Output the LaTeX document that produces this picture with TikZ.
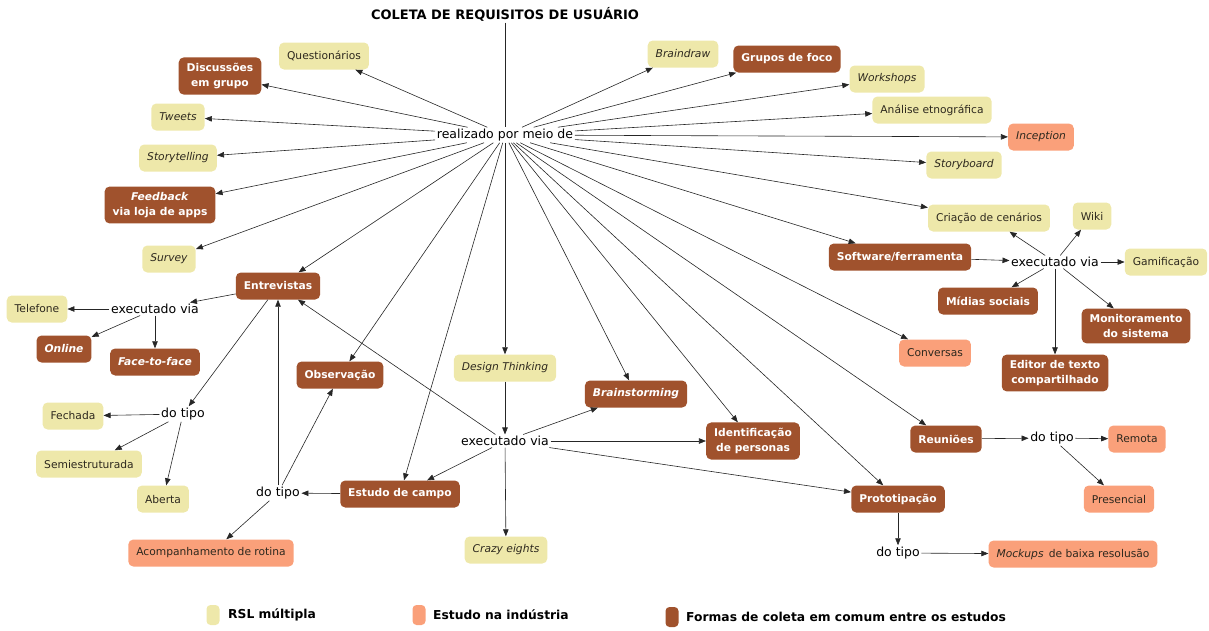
\documentclass[tikz,border=0pt]{standalone}
\usepackage{fontspec}
\setmainfont{DejaVu Sans}
\usetikzlibrary{arrows.meta}
\definecolor{rslcor}{RGB}{238,232,170}
\definecolor{indcor}{RGB}{250,160,122}
\definecolor{comcor}{RGB}{160,82,45}
\definecolor{textocor}{RGB}{45,40,30}

\begin{document}
\begin{tikzpicture}[x=1pt,y=-1pt,
  caixa/.style={rounded corners=5pt,inner xsep=8pt,inner ysep=6pt,minimum height=27pt,align=center,font=\fontsize{10.7}{14.5}\selectfont},
  rsl/.style={caixa,fill=rslcor,text=textocor},
  ind/.style={caixa,fill=indcor,text=textocor},
  comum/.style={caixa,fill=comcor,text=white,font=\fontsize{10.7}{14.5}\selectfont\bfseries},
  rotulo/.style={inner sep=1.5pt,font=\fontsize{12.5}{14}\selectfont},
  seta/.style={-{Triangle[length=7pt,width=5.5pt]},line width=0.6pt,draw=black!85},
  legenda/.style={rounded corners=4pt,minimum width=13pt,minimum height=20pt,inner sep=0pt},
  legtexto/.style={anchor=west,inner sep=0pt,font=\fontsize{12.3}{14}\selectfont\bfseries}]
\useasboundingbox (0,0) rectangle (1209,630);

\node[rotulo,font=\fontsize{13}{15}\selectfont\bfseries] (titulo) at (505,14) {COLETA DE REQUISITOS DE USUÁRIO};
\node[rotulo] (rpm) at (505,135) {realizado por meio de};

\node[rsl] (quest) at (324,56) {Questionários};
\node[comum] (discuss) at (220,76) {Discussões\\em grupo};
\node[rsl] (tweets) at (178,117) {\textit{Tweets}};
\node[rsl] (story) at (178,158) {\textit{Storytelling}};
\node[comum] (feedback) at (160,205) {\textit{Feedback}\\via loja de apps};
\node[rsl] (survey) at (169,259) {\textit{Survey}};
\node[comum] (entrev) at (278,286) {Entrevistas};

\node[rotulo] (execE) at (155,309) {executado via};
\node[rsl] (telef) at (37,309) {Telefone};
\node[comum] (online) at (64,349) {\textit{Online}};
\node[comum] (face) at (155,362) {\textit{Face-to-face}};

\node[rotulo] (tipoE) at (183,414) {do tipo};
\node[rsl] (fechada) at (73,416) {Fechada};
\node[rsl] (semi) at (89,464) {Semiestruturada};
\node[rsl] (aberta) at (163,499) {Aberta};

\node[comum] (observ) at (340,375) {Observação};
\node[rotulo] (tipoC) at (278,493) {do tipo};
\node[comum] (campo) at (400,494) {Estudo de campo};
\node[ind] (acomp) at (211,553) {Acompanhamento de rotina};

\node[rsl] (design) at (505,368) {\textit{Design Thinking}};
\node[rotulo] (execC) at (505,441) {executado via};
\node[rsl] (crazy) at (506,550) {\textit{Crazy eights}};
\node[comum] (brainst) at (636,394) {\textit{Brainstorming}};
\node[comum] (personas) at (753,441) {Identificação\\de personas};
\node[comum] (proto) at (898,499) {Prototipação};
\node[rotulo] (tipoP) at (898,553) {do tipo};
\node[ind] (mockups) at (1073,554) {\textit{Mockups}\, de baixa resolusão};

\node[comum] (reun) at (946,439) {Reuniões};
\node[rotulo] (tipoR) at (1052,438) {do tipo};
\node[ind] (remota) at (1137,439) {Remota};
\node[ind] (presencial) at (1119,499) {Presencial};
\node[ind] (conversas) at (935,353) {Conversas};

\node[comum] (software) at (900,257) {Software/ferramenta};
\node[rotulo] (execS) at (1055,262) {executado via};
\node[rsl] (cenarios) at (989,218) {Criação de cenários};
\node[rsl] (wiki) at (1092,216) {Wiki};
\node[rsl] (gamif) at (1166,262) {Gamificação};
\node[comum] (midias) at (988,301) {Mídias sociais};
\node[comum] (monit) at (1136,326) {Monitoramento\\do sistema};
\node[comum] (editor) at (1055,373) {Editor de texto\\compartilhado};

\node[rsl] (braindraw) at (683,54) {\textit{Braindraw}};
\node[comum] (grupos) at (787,59) {Grupos de foco};
\node[rsl] (workshops) at (887,79) {\textit{Workshops}};
\node[rsl] (etno) at (932,110) {Análise etnográfica};
\node[ind] (inception) at (1041,137) {\textit{Inception}};
\node[rsl] (storyboard) at (964,165) {\textit{Storyboard}};

\node[legenda,fill=rslcor] (legRsl) at (213,615) {};
\node[legtexto] (txtRsl) at (228,615) {RSL múltipla};
\node[legenda,fill=indcor] (legInd) at (419,615) {};
\node[legtexto] (txtInd) at (433,615) {Estudo na indústria};
\node[legenda,fill=comcor] (legCom) at (672,617) {};
\node[legtexto] (txtCom) at (686,617) {Formas de coleta em comum entre os estudos};

\draw[line width=0.6pt,draw=black!85] (titulo) -- (rpm);
\draw[seta] (rpm) -- (quest);
\draw[seta] (rpm) -- (discuss);
\draw[seta] (rpm) -- (tweets);
\draw[seta] (rpm) -- (story);
\draw[seta] (rpm) -- (feedback);
\draw[seta] (rpm) -- (survey);
\draw[seta] (rpm) -- (entrev);
\draw[seta] (rpm) -- (observ);
\draw[seta] (rpm) -- (campo);
\draw[seta] (rpm) -- (design);
\draw[seta] (rpm) -- (brainst);
\draw[seta] (rpm) -- (personas);
\draw[seta] (rpm) -- (proto);
\draw[seta] (rpm) -- (reun);
\draw[seta] (rpm) -- (conversas);
\draw[seta] (rpm) -- (software);
\draw[seta] (rpm) -- (cenarios);
\draw[seta] (rpm) -- (storyboard);
\draw[seta] (rpm) -- (inception);
\draw[seta] (rpm) -- (etno);
\draw[seta] (rpm) -- (workshops);
\draw[seta] (rpm) -- (grupos);
\draw[seta] (rpm) -- (braindraw);

\draw[seta] (entrev) -- (execE);
\draw[seta] (execE) -- (telef);
\draw[seta] (execE) -- (online);
\draw[seta] (execE) -- (face);
\draw[seta] (entrev) -- (tipoE);
\draw[seta] (tipoE) -- (fechada);
\draw[seta] (tipoE) -- (semi);
\draw[seta] (tipoE) -- (aberta);

\draw[seta] (campo) -- (tipoC);
\draw[seta] (tipoC) -- (entrev);
\draw[seta] (tipoC) -- (observ);
\draw[seta] (tipoC) -- (acomp);

\draw[seta] (design) -- (execC);
\draw[seta] (execC) -- (crazy);
\draw[seta] (execC) -- (campo);
\draw[seta] (execC) -- (entrev);
\draw[seta] (execC) -- (brainst);
\draw[seta] (execC) -- (personas);
\draw[seta] (execC) -- (proto);

\draw[seta] (proto) -- (tipoP);
\draw[seta] (tipoP) -- (mockups);
\draw[seta] (reun) -- (tipoR);
\draw[seta] (tipoR) -- (remota);
\draw[seta] (tipoR) -- (presencial);

\draw[seta] (software) -- (execS);
\draw[seta] (execS) -- (cenarios);
\draw[seta] (execS) -- (wiki);
\draw[seta] (execS) -- (gamif);
\draw[seta] (execS) -- (midias);
\draw[seta] (execS) -- (monit);
\draw[seta] (execS) -- (editor);
\end{tikzpicture}
\end{document}
